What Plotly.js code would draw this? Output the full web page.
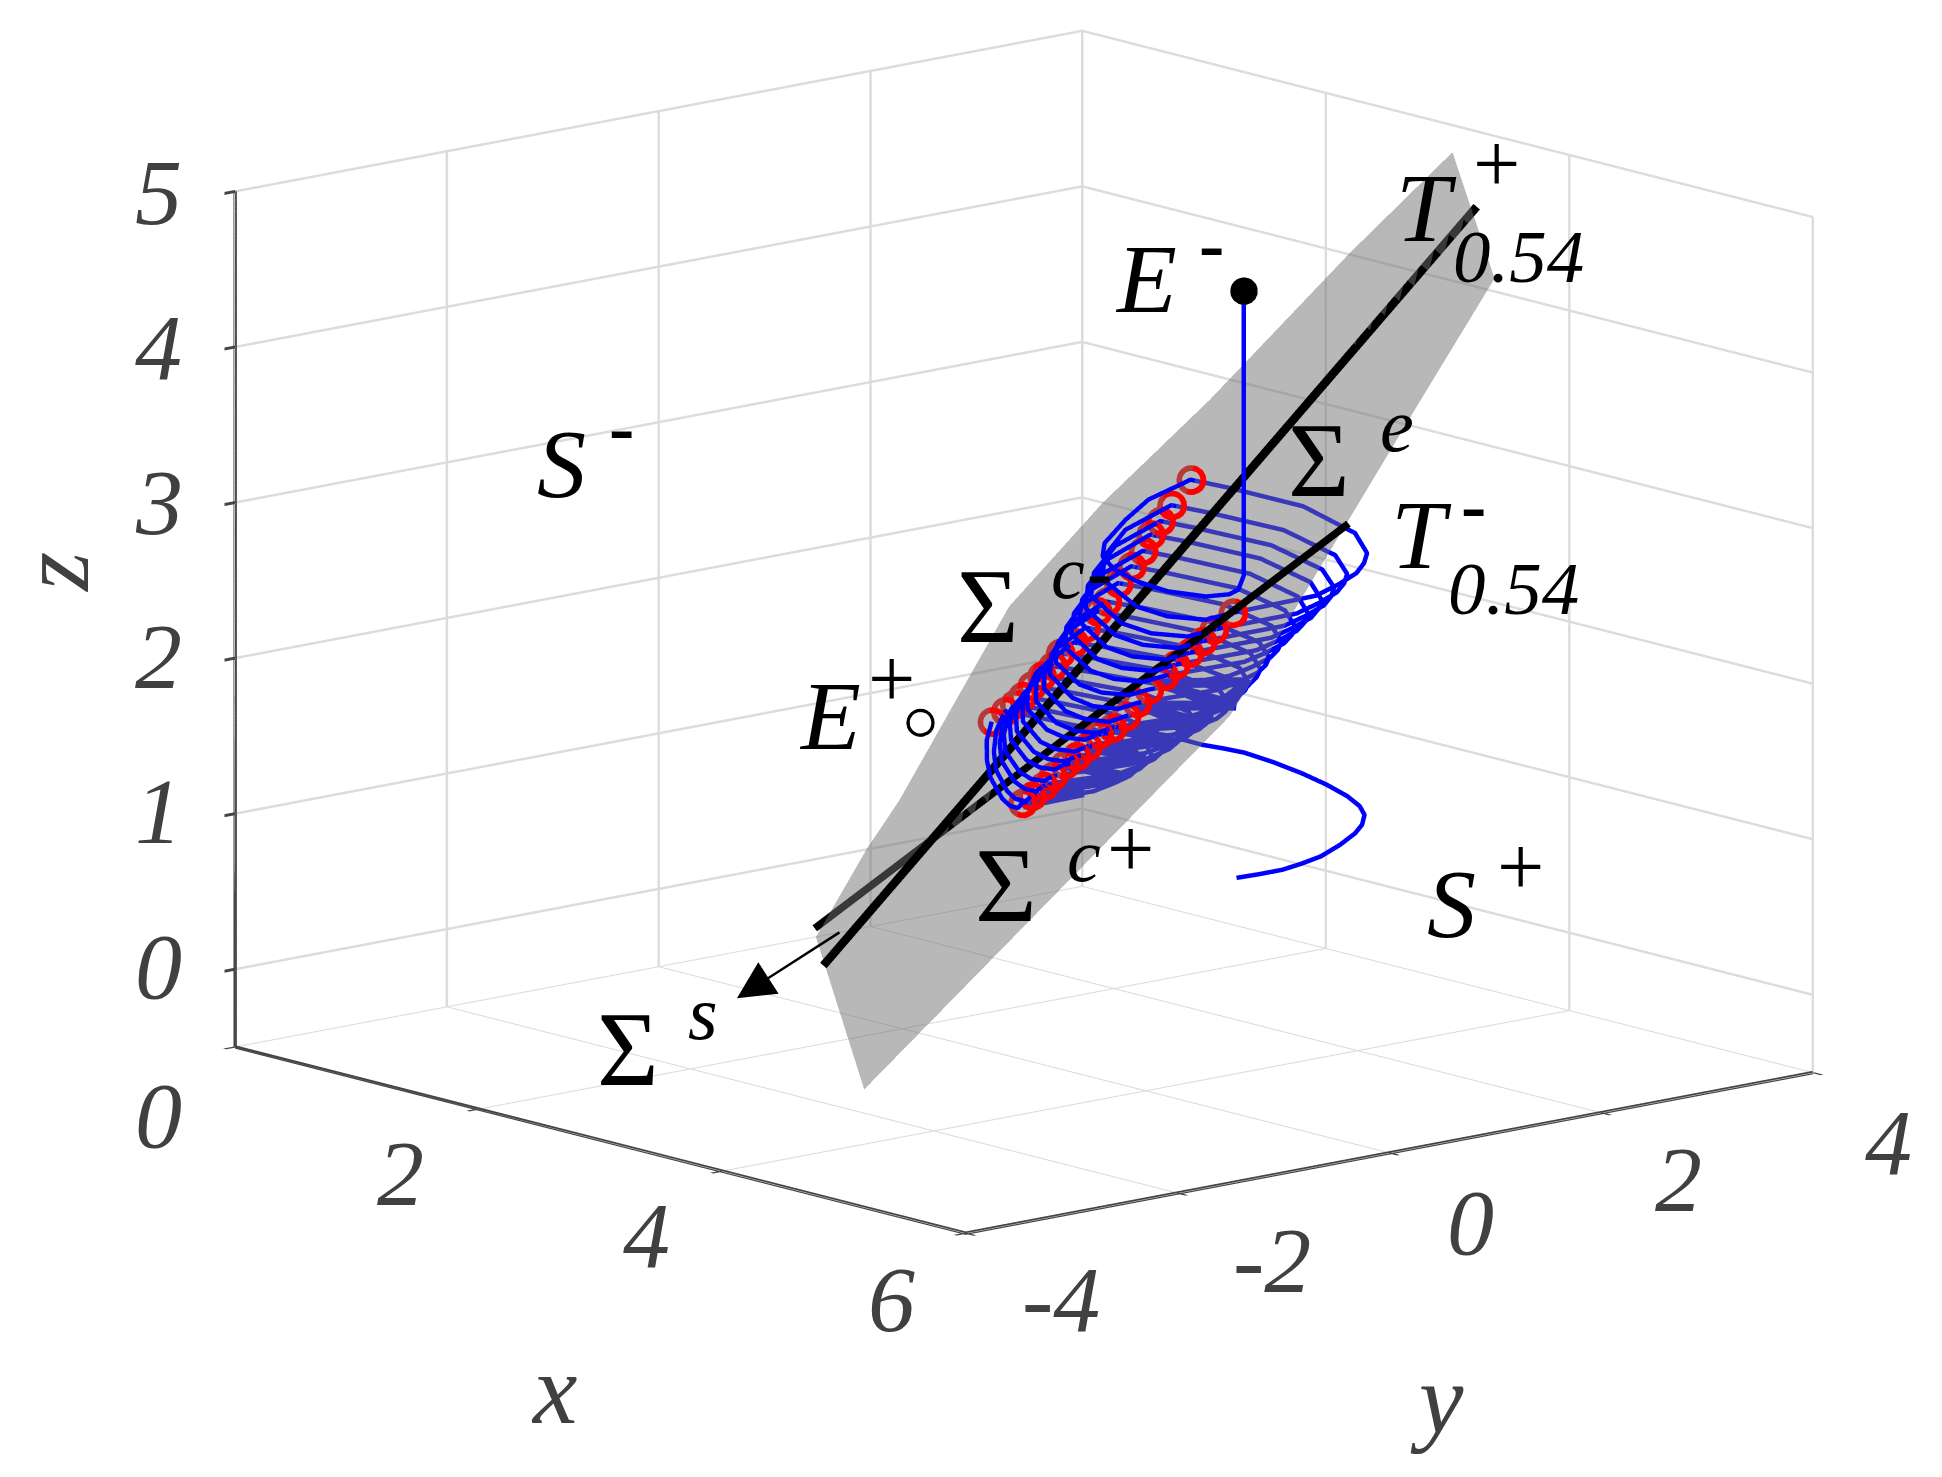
<!DOCTYPE html>
<html><head><meta charset="utf-8">
<script src="https://cdn.plot.ly/plotly-3.0.1.min.js"></script>
<style>html,body{margin:0;padding:0;background:#fff}#c{width:1942px;height:1477px}</style></head>
<body><div id="c"></div>
<script>
var xTicks=[0,2,4,6], yTicks=[-4,-2,0,2,4], zTicks=[0,1,2,3,4,5];
var sheetY=[0.629,3.471,3.869,3.097,1.565,1.366,-2.084,-2.54,-2.061,-1.749,-0.716,0.167,1.179,2.501];
var sheetZ=[2.832,4.986,4.123,3.358,1.818,1.631,-0.322,0.716,1.22,1.498,2.606,3.158,3.69,4.463];
var sheetX=[3.5,3.5,3.5,3.5,3.5,3.5,3.5,3.5,3.5,3.5,3.5,3.5,3.5,3.5];
var redLeftY=[0.998,0.816,0.711,0.618,0.547,0.437,0.313,0.204,0.115,0.005,-0.108,-0.236,-0.306,-0.412,-0.505,-0.592,-0.669,-0.754,-0.88];
var redLeftZ=[3.2,3.06,2.971,2.896,2.801,2.716,2.624,2.519,2.467,2.377,2.297,2.245,2.171,2.121,2.069,2.013,1.971,1.938,1.887];
var redRightY=[1.395,1.214,1.106,0.98,0.851,0.746,0.6,0.489,0.384,0.255,0.126,0.021,-0.084,-0.194,-0.306,-0.393,-0.505,-0.592];
var redRightZ=[2.293,2.208,2.147,2.088,2.029,1.971,1.902,1.83,1.759,1.701,1.674,1.611,1.561,1.522,1.463,1.41,1.361,1.327];
var tPlusX=[3.7,3.462], tPlusY=[-2.7,3.744], tPlusZ=[0.594,4.593];
var tMinusX=[3.4,3.675], tMinusY=[-2.436,2.288], tMinusZ=[0.739,2.786];
var eMinus=[3.7,1.27,4.42], ePlus=[3.5,-1.56,1.97];
var startX=[3.7,3.7,3.7,3.7,3.7,3.7,3.7,3.7,3.7,3.7,3.7,3.7,3.5];
var startY=[1.27,1.27,1.219,1.13,0.915,0.552,0.26,0.046,-0.062,-0.044,0.154,0.371,0.998];
var startZ=[4.42,2.588,2.504,2.486,2.5,2.58,2.682,2.787,2.884,2.967,3.091,3.193,3.2];
var turnX=[3.3,3.3,3.3,3.3,3.3,3.3,3.3,3.3,3.5,3.7,3.7,3.7,3.7,3.7,3.7,3.5];
var turnY=[
[1.586,2.292,2.781,2.895,2.866,2.795,2.626,2.413,1.395,0.913,0.551,0.258,-0.062,-0.046,0.153,0.816],
[1.403,2.107,2.594,2.707,2.679,2.608,2.44,2.228,1.214,0.74,0.397,0.122,-0.171,-0.144,0.058,0.711],
[1.294,1.989,2.471,2.584,2.556,2.486,2.32,2.112,1.106,0.645,0.319,0.057,-0.224,-0.201,-0.012,0.618],
[1.198,1.886,2.36,2.467,2.437,2.365,2.197,1.987,0.98,0.53,0.22,-0.026,-0.284,-0.255,-0.069,0.547],
[1.117,1.787,2.242,2.34,2.306,2.232,2.062,1.85,0.851,0.412,0.12,-0.113,-0.358,-0.333,-0.158,0.437],
[1.005,1.667,2.119,2.216,2.184,2.11,1.944,1.736,0.746,0.323,0.046,-0.178,-0.42,-0.405,-0.25,0.313],
[0.88,1.542,1.993,2.087,2.053,1.978,1.808,1.597,0.6,0.187,-0.072,-0.28,-0.505,-0.488,-0.341,0.204],
[0.77,1.429,1.877,1.971,1.937,1.862,1.693,1.482,0.489,0.089,-0.153,-0.348,-0.56,-0.546,-0.409,0.115],
[0.683,1.348,1.796,1.888,1.852,1.775,1.602,1.388,0.384,-0.003,-0.229,-0.413,-0.617,-0.61,-0.491,0.005],
[0.575,1.242,1.69,1.78,1.742,1.662,1.486,1.269,0.255,-0.119,-0.328,-0.5,-0.692,-0.688,-0.581,-0.108],
[0.471,1.155,1.612,1.701,1.66,1.576,1.394,1.167,0.126,-0.234,-0.427,-0.587,-0.77,-0.773,-0.682,-0.236],
[0.346,1.038,1.504,1.597,1.558,1.474,1.292,1.065,0.021,-0.327,-0.504,-0.649,-0.815,-0.817,-0.734,-0.306],
[0.256,0.906,1.342,1.426,1.388,1.307,1.133,0.917,-0.084,-0.419,-0.579,-0.713,-0.872,-0.881,-0.813,-0.412],
[0.144,0.783,1.209,1.292,1.254,1.176,1.005,0.793,-0.194,-0.516,-0.659,-0.781,-0.927,-0.939,-0.883,-0.505],
[0.038,0.652,1.062,1.14,1.102,1.025,0.86,0.655,-0.306,-0.617,-0.742,-0.85,-0.982,-0.995,-0.949,-0.592],
[-0.064,0.521,0.912,0.988,0.952,0.881,0.724,0.53,-0.393,-0.69,-0.8,-0.896,-1.017,-1.034,-1.002,-0.669],
[-0.15,0.415,0.79,0.859,0.824,0.751,0.596,0.405,-0.505,-0.79,-0.884,-0.965,-1.071,-1.089,-1.067,-0.754],
[-0.237,0.324,0.697,0.765,0.729,0.657,0.503,0.313,-0.592,-0.862,-0.939,-1.013,-1.121,-1.155,-1.157,-0.88]];
var turnZ=[
[3.033,2.822,2.587,2.443,2.383,2.328,2.277,2.232,2.293,2.351,2.419,2.52,2.737,2.881,3.027,3.06],
[2.896,2.693,2.469,2.334,2.278,2.228,2.181,2.141,2.208,2.265,2.33,2.429,2.644,2.789,2.936,2.971],
[2.809,2.611,2.393,2.263,2.209,2.16,2.116,2.077,2.147,2.203,2.266,2.362,2.572,2.715,2.86,2.896],
[2.736,2.539,2.326,2.197,2.145,2.096,2.054,2.016,2.088,2.144,2.204,2.296,2.495,2.632,2.77,2.801],
[2.643,2.454,2.248,2.125,2.075,2.03,1.99,1.954,2.029,2.085,2.143,2.23,2.422,2.553,2.687,2.716],
[2.56,2.376,2.176,2.058,2.009,1.965,1.927,1.894,1.971,2.028,2.082,2.165,2.347,2.473,2.6,2.624],
[2.47,2.288,2.092,1.977,1.931,1.889,1.852,1.822,1.902,1.96,2.01,2.088,2.26,2.379,2.5,2.519],
[2.367,2.19,2.001,1.89,1.847,1.808,1.774,1.746,1.83,1.884,1.933,2.012,2.188,2.312,2.439,2.467],
[2.313,2.132,1.94,1.826,1.781,1.74,1.706,1.676,1.759,1.812,1.859,1.935,2.106,2.225,2.351,2.377],
[2.224,2.048,1.862,1.753,1.709,1.672,1.639,1.613,1.701,1.755,1.798,1.87,2.034,2.151,2.272,2.297],
[2.147,1.974,1.797,1.696,1.658,1.624,1.597,1.576,1.674,1.727,1.768,1.837,1.993,2.105,2.223,2.245],
[2.093,1.919,1.739,1.637,1.598,1.563,1.535,1.513,1.611,1.663,1.702,1.768,1.92,2.031,2.147,2.171],
[2.023,1.858,1.685,1.586,1.549,1.515,1.488,1.466,1.561,1.611,1.648,1.712,1.864,1.975,2.094,2.121],
[1.975,1.812,1.642,1.546,1.509,1.476,1.45,1.428,1.522,1.572,1.605,1.667,1.815,1.924,2.041,2.069],
[1.924,1.763,1.594,1.496,1.458,1.425,1.396,1.374,1.463,1.511,1.542,1.603,1.75,1.861,1.982,2.013],
[1.87,1.713,1.547,1.451,1.412,1.378,1.35,1.325,1.41,1.455,1.485,1.545,1.694,1.808,1.934,1.971],
[1.828,1.673,1.506,1.409,1.37,1.335,1.305,1.279,1.361,1.403,1.431,1.492,1.644,1.762,1.893,1.938],
[1.795,1.64,1.475,1.376,1.337,1.302,1.272,1.246,1.327,1.369,1.394,1.452,1.598,1.714,1.843,1.887]];
var coreX=[3.3,3.3,3.3,3.3,3.3,3.3,3.3,3.3,3.3,3.3,3.3,3.3,3.3,3.3,3.3];
var coreY=[-0.357,0.216,-0.17,0.591,0.041,0.801,0.251,1.058,0.485,1.351,0.719,1.655,0.918,1.772,1.094];
var coreZ=[1.246,1.252,1.334,1.307,1.449,1.399,1.533,1.485,1.623,1.55,1.744,1.623,1.861,1.759,1.488];
var tailX=[3.3,3.3,3.3,3.3,3.3,3.3,3.3,3.3,3.3,3.3,3.3,3.3,3.3,3.3,3.3,3.3,3.3,3.3];
var tailY=[1.094,1.339,1.538,1.737,2.006,2.275,2.509,2.708,2.825,2.871,2.848,2.782,2.637,2.457,2.275,2.096,1.877,1.662];
var tailZ=[1.488,1.412,1.363,1.31,1.215,1.109,1.006,0.905,0.826,0.764,0.704,0.657,0.6,0.55,0.527,0.511,0.511,0.515];

var orbitX=startX.slice(), orbitY=startY.slice(), orbitZ=startZ.slice();
turnY.forEach(function(t,i){orbitX=orbitX.concat(turnX);orbitY=orbitY.concat(t);orbitZ=orbitZ.concat(turnZ[i]);});
var redY=redLeftY.concat(redRightY), redZ=redLeftZ.concat(redRightZ), redX=redY.map(function(){return 3.5;});
var fi=[],fj=[],fk=[];
for(var n=1;n<sheetY.length;n++){fi.push(0);fj.push(n);fk.push(n===sheetY.length-1?1:n+1);}

var lineTrace=function(x,y,z,color,width){return {type:'scatter3d',mode:'lines',x:x,y:y,z:z,line:{color:color,width:width},hoverinfo:'skip',showlegend:false};};
var ringTrace=function(x,y,z,color,size){return {type:'scatter3d',mode:'markers',x:x,y:y,z:z,marker:{symbol:'circle-open',size:size,color:color},hoverinfo:'skip',showlegend:false};};
var data=[
 {type:'mesh3d',x:sheetX,y:sheetY,z:sheetZ,i:fi,j:fj,k:fk,color:'#707070',opacity:0.5,flatshading:true,
  lighting:{ambient:1,diffuse:0,specular:0,roughness:1,fresnel:0},hoverinfo:'skip',showscale:false},
 lineTrace(tPlusX,tPlusY,tPlusZ,'#000',17),
 lineTrace(tMinusX,tMinusY,tMinusZ,'#000',15),
 ringTrace(redX,redY,redZ,'#ff0000',17),
 ringTrace(redX,redY,redZ,'#ff0000',16.2),
 ringTrace(redX,redY,redZ,'#ff0000',15.4),
 ringTrace(redX,redY,redZ,'#ff0000',14.6),
 ringTrace(redX,redY,redZ,'#ff0000',13.8),
 ringTrace(redX,redY,redZ,'#ff0000',13),
 lineTrace(orbitX,orbitY,orbitZ,'#0000ff',9),
 lineTrace(coreX,coreY,coreZ,'#0000ff',20),
 lineTrace(tailX,tailY,tailZ,'#0000ff',9),
 {type:'scatter3d',mode:'markers',x:[eMinus[0]],y:[eMinus[1]],z:[eMinus[2]],marker:{symbol:'circle',size:16,color:'#000'},hoverinfo:'skip',showlegend:false},
 ringTrace([ePlus[0]],[ePlus[1]],[ePlus[2]],'#000',16),
 ringTrace([ePlus[0]],[ePlus[1]],[ePlus[2]],'#000',15.3)
];
var R=3;
var SC=1.77;
var axisCommon={showbackground:false,showspikes:false,zeroline:false,gridcolor:'#dcdcdc',gridwidth:5,showline:true,linecolor:'#444',linewidth:7,
  ticks:'outside',ticklen:14,tickwidth:6,tickcolor:'#444',showticklabels:false,title:{text:''}};
var F=1942/1568;
function note(sx,sy,text,size,italic,bold,color,angle){return {xref:'paper',yref:'paper',x:sx*F/1942,y:1-sy*F/1477,text:bold?'<b>'+text+'</b>':text,showarrow:false,xanchor:'center',yanchor:'middle',textangle:angle||0,
  font:{family:'Liberation Serif',size:size,color:color||'#000',style:italic?'italic':'normal'}};}
var G='#404040';
var annotations=[
 note(453,375,'S',98,true), note(502,345,'-',76,false,true),
 note(925,225,'E',98,true), note(978,197,'-',76,false,true),
 note(1152,168,'T',98,true), note(1208,132,'+',84,false), note(1226,207,'0.54',75,true),
 note(1065,372,'Σ',106,false), note(1128,343,'e',76,true),
 note(1148,432,'T',98,true), note(1190,408,'-',76,false,true), note(1222,475,'0.54',75,true),
 note(798,490,'Σ',106,false), note(862,462,'c',76,true), note(888,462,'-',76,false,true),
 note(670,578,'E',98,true), note(720,548,'+',84,false),
 note(812,715,'Σ',106,false), note(875,690,'c',76,true), note(913,685,'+',84,false),
 note(1172,730,'S',98,true), note(1228,700,'+',84,false),
 note(507,847,'Σ',106,false), note(568,818,'s',76,true),
 note(447,1122,'x',100,true,false,G), note(1160,1130,'y',100,true,false,G), note(44,462,'z',100,true,false,G,-90),
 note(128,155,'5',94,true,false,G),note(128,280,'4',94,true,false,G),note(128,405,'3',94,true,false,G),note(128,530,'2',94,true,false,G),note(128,655,'1',94,true,false,G),note(128,780,'0',94,true,false,G),
 note(128,900,'0',94,true,false,G),note(323,947,'2',94,true,false,G),note(522,997,'4',94,true,false,G),note(720,1049,'6',94,true,false,G),
 note(857,1049,'-4',94,true,false,G),note(1027,1017,'-2',94,true,false,G),note(1187,987,'0',94,true,false,G),note(1355,952,'2',94,true,false,G),note(1525,922,'4',94,true,false,G),
 {xref:'paper',yref:'paper',axref:'paper',ayref:'paper',x:595*F/1942,y:1-806*F/1477,ax:679*F/1942,ay:1-752*F/1477,text:'',showarrow:true,arrowhead:2,arrowsize:3,arrowwidth:2.5,arrowcolor:'#000'}
];
var layout={width:1942,height:1477,margin:{l:0,r:0,t:0,b:0},paper_bgcolor:'#fff',showlegend:false,annotations:annotations,
 scene:{domain:{x:[0.0546,1],y:[0.144,1]},bgcolor:'#fff',
  camera:{projection:{type:'orthographic'},up:{x:0,y:0,z:1},center:{x:0,y:0,z:0},eye:{x:0.7386*R,y:-0.637*R,z:0.2198*R}},
  aspectmode:'manual',aspectratio:{x:SC,y:SC,z:0.784*SC},
  xaxis:Object.assign({},axisCommon,{range:[0,6],tickmode:'array',tickvals:xTicks,ticktext:xTicks.map(String)}),
  yaxis:Object.assign({},axisCommon,{range:[-4,4],tickmode:'array',tickvals:yTicks,ticktext:yTicks.map(String)}),
  zaxis:Object.assign({},axisCommon,{range:[-0.5,5],tickmode:'array',tickvals:zTicks,ticktext:zTicks.map(String)})
 }};
Plotly.newPlot('c',data,layout,{displayModeBar:false});
</script></body></html>
